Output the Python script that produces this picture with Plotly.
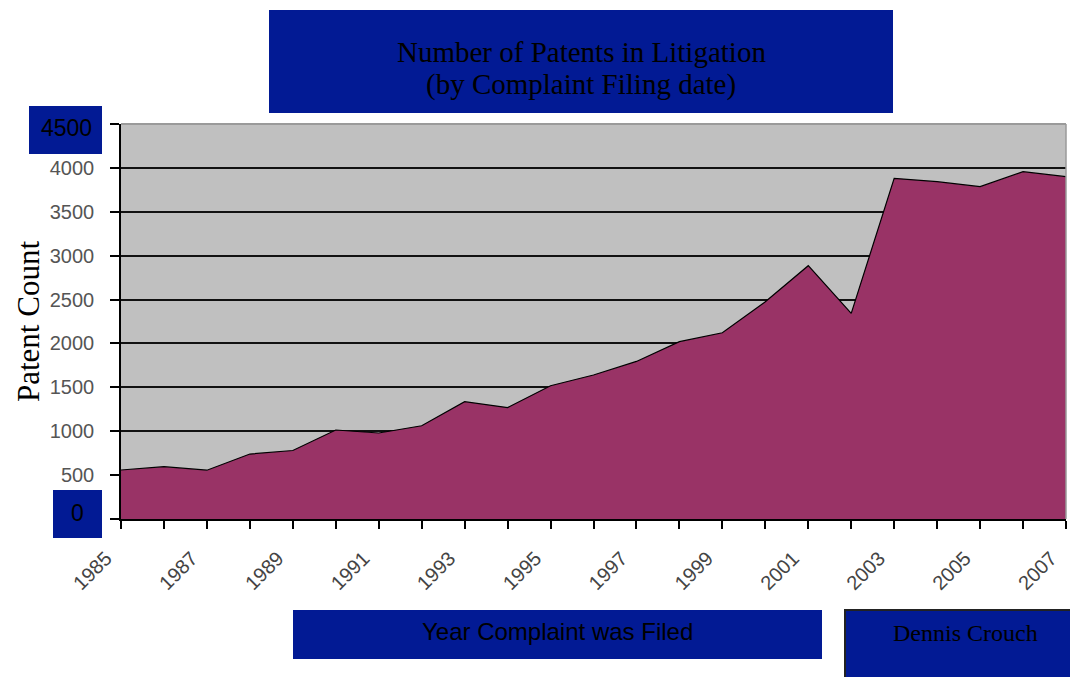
import plotly.graph_objects as go

# ---------------- data ----------------
years = list(range(1985, 2008))
patent_counts = [558, 596, 556, 740, 780, 1014, 980, 1062, 1336, 1270,
                 1518, 1640, 1795, 2020, 2122, 2475, 2886, 2343, 3881,
                 3843, 3786, 3957, 3900]
x_tick_labels = [str(y) if (y - 1985) % 2 == 0 else "" for y in years]
y_tick_values = list(range(0, 4501, 500))
y_tick_labels = ["" if v in (0, 4500) else str(v) for v in y_tick_values]

title_line1 = "Number of Patents in Litigation"
title_line2 = "(by Complaint Filing date)"
y_title = "Patent Count"
x_title = "Year Complaint was Filed"
credit = "Dennis Crouch"

# ---------------- layout geometry (screen pixels; page has 8px body margin) ----------------
OFF = 8
W, H = 1078 - OFF, 677 - OFF
PL, PR, PT, PB = 121, 1066, 124, 519
BLUE = "#021A94"
SERIF = "Liberation Serif, Times New Roman, serif"
SANS = "Liberation Sans, Arial, sans-serif"


def px(x):
    return (x - PL) / (PR - PL)


def py(y):
    return (PB - y) / (PB - PT)


fig = go.Figure()
fig.add_trace(go.Scatter(
    x=years, y=patent_counts, mode="lines", fill="tozeroy",
    fillcolor="#993366", line=dict(color="black", width=1.2),
    hoverinfo="x+y", showlegend=False))

shapes = []


def box(x0, y0, x1, y1, line=None):
    d = dict(type="rect", xref="paper", yref="paper",
             x0=px(x0), x1=px(x1), y0=py(y1), y1=py(y0),
             fillcolor=BLUE, layer="above",
             line=line or dict(width=0))
    shapes.append(d)


box(269, 10, 893, 113)
box(29, 106, 102, 154)
box(53, 490, 102, 538)
box(293, 610, 822, 659)
box(845, 610, 1090, 690, line=dict(color="#222", width=2))

# top / right border of plot area in gray
shapes.append(dict(type="line", xref="paper", yref="paper", x0=0, x1=1,
                   y0=1, y1=1, line=dict(color="#9a9a9a", width=2), layer="above"))
shapes.append(dict(type="line", xref="paper", yref="paper", x0=1, x1=1,
                   y0=0, y1=1, line=dict(color="#9a9a9a", width=1.5), layer="above"))

annotations = []


def text(t, x, y, size, family, angle=0):
    annotations.append(dict(text=t, xref="paper", yref="paper", x=px(x), y=py(y),
                            xanchor="center", yanchor="middle", showarrow=False,
                            textangle=angle,
                            font=dict(size=size, family=family, color="black")))


text(title_line1, 581, 52, 29, SERIF)
text(title_line2, 581, 85, 29, SERIF)
text(y_title, 28, 322, 31, SERIF, angle=-90)
text("4500", 66, 128, 23, SANS)
text("0", 77, 513, 23, SANS)
text(x_title, 557, 631, 24, SANS)
text(credit, 965, 633, 24, SERIF)

fig.update_layout(
    width=W, height=H, autosize=False,
    margin=dict(l=PL - OFF, r=W - (PR - OFF), t=PT - OFF, b=H - (PB - OFF), pad=0),
    paper_bgcolor="white", plot_bgcolor="#C0C0C0",
    shapes=shapes, annotations=annotations,
    xaxis=dict(range=[1985, 2007], tickmode="array", tickvals=years,
               ticktext=x_tick_labels, tickangle=-45, ticks="outside",
               ticklen=8, tickwidth=1.5, tickcolor="black",
               showline=True, linecolor="black", linewidth=1.5,
               showgrid=False, zeroline=False,
               tickfont=dict(size=20, family=SANS, color="#444"),
               ticklabelstandoff=10, ticklabelshift=-15),
    yaxis=dict(range=[0, 4500], tickmode="array", tickvals=y_tick_values,
               ticktext=y_tick_labels, ticks="outside", ticklen=9,
               tickwidth=1.5, tickcolor="black",
               showline=True, linecolor="black", linewidth=1.5,
               showgrid=True, gridcolor="#111", gridwidth=1.5, zeroline=False,
               tickfont=dict(size=20, family=SANS, color="#555"),
               ticklabelstandoff=12),
)

fig.write_html("out.html")
